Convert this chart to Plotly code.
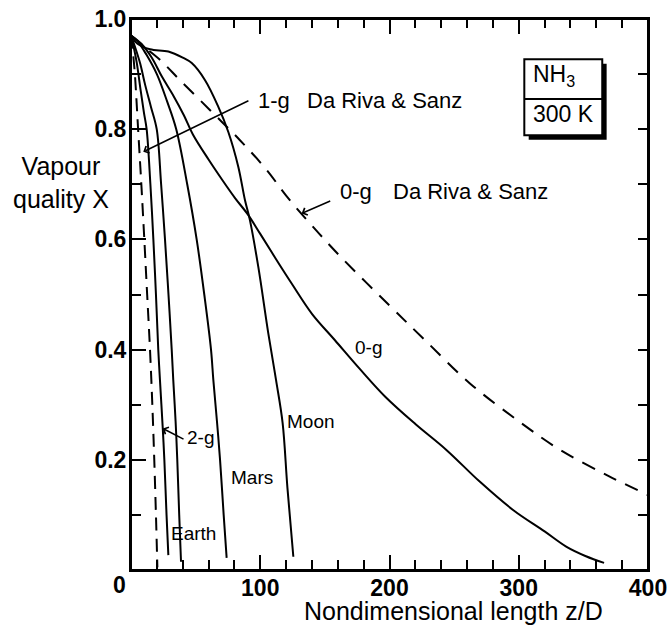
import plotly.graph_objects as go

# ---- data ----
dr1g_x = [0, 1.5, 3, 4.3, 5.5, 8, 10.3, 12.5, 14.7, 16.5, 18, 19.3, 20.4]
dr1g_y = [0.97, 0.94, 0.90, 0.85, 0.80, 0.70, 0.60, 0.50, 0.40, 0.30, 0.20, 0.10, 0.005]

g2_x = [0, 2, 4.5, 7.5, 10, 12.1, 15, 17.3, 19.3, 21.1, 22.4, 24.5, 25.8, 27.5, 28.9]
g2_y = [0.97, 0.95, 0.92, 0.87, 0.83, 0.80, 0.70, 0.60, 0.50, 0.40, 0.345, 0.26, 0.20, 0.10, 0.027]

earth_x = [0, 3, 7, 11, 15.5, 19.9, 23.3, 26.3, 29, 31.5, 32.7, 34.5, 35.8, 37.3, 38.7]
earth_y = [0.97, 0.95, 0.92, 0.88, 0.84, 0.80, 0.70, 0.60, 0.50, 0.40, 0.345, 0.27, 0.20, 0.10, 0.015]

mars_x = [0, 5, 12, 20, 28, 35, 43.5, 50.8, 56.7, 61.9, 63.7, 66.5, 68.9, 71.7, 74]
mars_y = [0.97, 0.96, 0.935, 0.90, 0.85, 0.80, 0.70, 0.60, 0.50, 0.40, 0.345, 0.27, 0.20, 0.10, 0.022]

moon_x = [0, 5, 14.7, 28.9, 40, 47, 57.3, 67.5, 75.3, 83, 88.2, 92, 98.5, 106.2, 112.2, 117.3, 121, 125.6]
moon_y = [0.97, 0.955, 0.945, 0.941, 0.93, 0.92, 0.889, 0.841, 0.795, 0.732, 0.671, 0.635, 0.55, 0.43, 0.345, 0.267, 0.15, 0.024]

g0_x = [0, 8, 16, 24, 33, 41, 48, 60, 70, 80.5, 90.5, 100, 112, 124.3, 140, 157.8, 177, 196.5, 220, 244, 270, 295.6, 320, 337, 352, 366]
g0_y = [0.97, 0.955, 0.93, 0.895, 0.86, 0.825, 0.79, 0.745, 0.71, 0.675, 0.645, 0.61, 0.565, 0.52, 0.465, 0.417, 0.365, 0.315, 0.265, 0.218, 0.16, 0.109, 0.07, 0.042, 0.025, 0.013]

dr0g_x = [0, 10, 22.4, 37.9, 61, 84.3, 105, 120.5, 140, 162, 200, 227.5, 262, 300, 332, 370, 400]
dr0g_y = [0.97, 0.95, 0.926, 0.889, 0.835, 0.78, 0.726, 0.678, 0.625, 0.569, 0.48, 0.417, 0.339, 0.27, 0.218, 0.17, 0.136]

x_tick_vals = [0, 100, 200, 300, 400]
x_tick_text = ["", "100", "200", "300", "400"]
y_tick_vals = [0.2, 0.4, 0.6, 0.8, 1.0]
y_tick_text = ["0.2", "0.4", "0.6", "0.8", "1.0"]
x_range = [0, 400]
y_range = [0, 1.0]

FONT = "Liberation Sans, Arial, sans-serif"

fig = go.Figure()

def add(x, y, dash="solid", xa="x", ya="y"):
    fig.add_trace(go.Scatter(x=x, y=y, mode="lines", line_shape="spline", xaxis=xa, yaxis=ya,
                             line=dict(color="black", width=2, dash=dash),
                             showlegend=False, hoverinfo="skip"))

add(dr1g_x, dr1g_y, "13px,8px")
add(g2_x, g2_y)
add(earth_x, earth_y)
add(mars_x, mars_y)
add(moon_x, moon_y)
add(g0_x, g0_y)
# drawn on the overlaid (top/right) axes, which share the same ranges
add(dr0g_x, dr0g_y, "14px,10px", xa="x2", ya="y2")

base = dict(showline=True, linewidth=2, linecolor="black", ticks="inside", tickwidth=2,
            tickcolor="black", showgrid=False, zeroline=False, automargin=False)
tfont = dict(family=FONT, size=23, color="black", weight="bold")

fig.update_layout(
    xaxis=dict(range=x_range, tickmode="array", tickvals=x_tick_vals, ticktext=x_tick_text,
               ticklen=15, ticklabelstandoff=-4, tickfont=tfont, mirror=False,
               minor=dict(tickmode="linear", tick0=0, dtick=20, ticks="inside", ticklen=10,
                          tickwidth=2, tickcolor="black", showgrid=False), **base),
    yaxis=dict(range=y_range, tickmode="array", tickvals=y_tick_vals, ticktext=y_tick_text,
               ticklen=15, ticklabelstandoff=-2, tickfont=tfont, mirror=False,
               minor=dict(tickmode="linear", tick0=0, dtick=0.1, ticks="inside", ticklen=10,
                          tickwidth=2, tickcolor="black", showgrid=False), **base),
    xaxis2=dict(range=x_range, overlaying="x", side="top", anchor="y2", tickmode="array",
                tickvals=x_tick_vals, ticklen=15, showticklabels=False,
                minor=dict(tickmode="linear", tick0=0, dtick=20, ticks="inside", ticklen=9,
                           tickwidth=2, tickcolor="black", showgrid=False), **base),
    yaxis2=dict(range=y_range, overlaying="y", side="right", anchor="x2", tickmode="array",
                tickvals=y_tick_vals, ticklen=10, showticklabels=False,
                minor=dict(tickmode="linear", tick0=0, dtick=0.1, ticks="inside", ticklen=10,
                           tickwidth=2, tickcolor="black", showgrid=False), **base),
)

ann = []
def txt(x, y, s, size=22, xanchor="left", xref="x", yref="y", weight="normal"):
    ann.append(dict(x=x, y=y, xref=xref, yref=yref, text=s, showarrow=False,
                    xanchor=xanchor, yanchor="middle",
                    font=dict(family=FONT, size=size, color="black", weight=weight)))

def arrow(x, y, ax, ay):
    ann.append(dict(x=x, y=y, ax=ax, ay=ay, xref="x", yref="y", axref="x", ayref="y",
                    text="", showarrow=True, arrowhead=4, arrowsize=1, arrowwidth=1.5,
                    arrowcolor="black", standoff=0, startstandoff=0))

# leader lines
arrow(9.5, 0.759, 92, 0.853)
arrow(132, 0.647, 155.3, 0.671)
arrow(24.5, 0.257, 41.8, 0.236)

# labels
txt(96.5, 0.853, "1-g")
txt(134.5, 0.853, "Da Riva & Sanz")
txt(160, 0.687, "0-g")
txt(201.5, 0.687, "Da Riva & Sanz")
txt(53.4, 0.24, "2-g", size=19, xanchor="center")
txt(48, 0.067, "Earth", size=19, xanchor="center")
txt(93.4, 0.168, "Mars", size=19, xanchor="center")
txt(139, 0.269, "Moon", size=19, xanchor="center")
txt(183.4, 0.403, "0-g", size=19, xanchor="center")

# NH3 box text
txt(309.5, 0.8966, "NH<sub>3</sub>", size=23)
txt(309.5, 0.8267, "300 K", size=23)

# axis titles and the "0" label
txt(-0.135, 0.704, "Vapour<br>quality X", size=25, xanchor="center", xref="paper", yref="paper")
txt(0.624, -0.0744, "Nondimensional length z/D", size=25, xanchor="center", xref="paper", yref="paper")
txt(-0.0232, -0.0272, "0", size=23, xanchor="center", xref="paper", yref="paper", weight="bold")

fig.update_layout(annotations=ann)

# frame round the plot area (coincides with the axis lines)
fig.add_shape(type="rect", xref="paper", yref="paper", x0=0, x1=1, y0=0, y1=1,
              line=dict(width=2, color="black"), fillcolor="rgba(0,0,0,0)", layer="above")

# NH3 / 300 K box with shadow
box_x0, box_x1 = 304.3, 364.6
box_y0, box_y1, box_mid = 0.789, 0.927, 0.855
sx, sy = 3.4, 0.008
fig.add_shape(type="rect", x0=box_x0 + sx, x1=box_x1 + sx, y0=box_y0 - sy, y1=box_y1 - sy,
              xref="x", yref="y", line=dict(width=0), fillcolor="black")
fig.add_shape(type="rect", x0=box_x0, x1=box_x1, y0=box_y0, y1=box_y1,
              xref="x", yref="y", line=dict(width=2, color="black"), fillcolor="white")
fig.add_shape(type="line", x0=box_x0, x1=box_x1, y0=box_mid, y1=box_mid,
              xref="x", yref="y", line=dict(width=2, color="black"))

fig.update_layout(width=671, height=627, margin=dict(l=131, r=23, t=19, b=57),
                  paper_bgcolor="white", plot_bgcolor="white",
                  font=dict(family=FONT, color="black"))

# remove the browser's default page margin so the figure sits at the window's corner
fig.write_html("out.html", config={"displayModeBar": False},
               post_script="document.body.style.margin='0';document.body.style.overflow='hidden';")
